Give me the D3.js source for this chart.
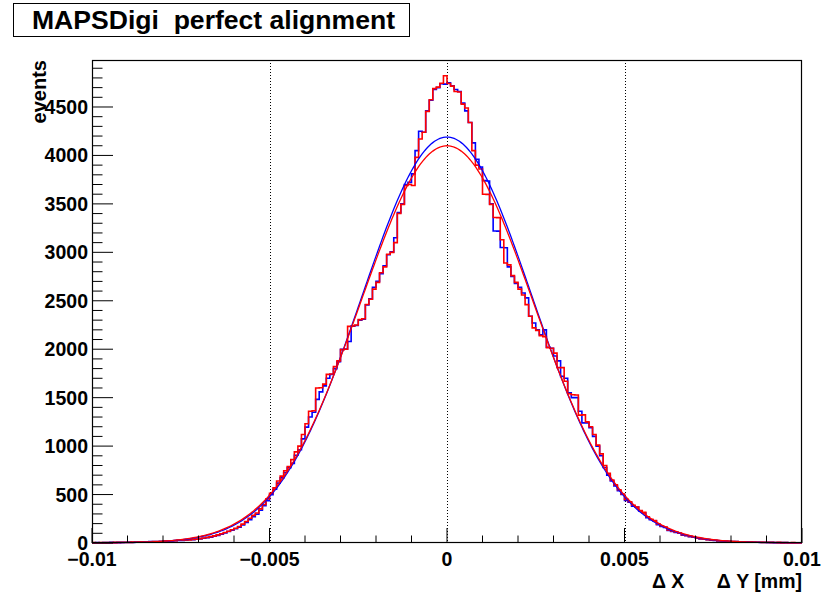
<!DOCTYPE html>
<html>
<head>
<meta charset="utf-8">
<script src="https://cdn.jsdelivr.net/npm/d3@7"></script>
<style>
  html, body { margin: 0; padding: 0; background: #fff; }
  svg { display: block; }
  text { font-family: "Liberation Sans", Arial, Helvetica, sans-serif; font-weight: bold; white-space: pre; }
</style>
</head>
<body>
<svg id="chart" width="835" height="597"></svg>
<script>
// Residual histograms: 200 bins of width 0.0001 mm from -0.01 to 0.01
const binLow = -0.01;
const binWidth = 0.0001;

const countsX = [
  3,4,3,5,4,6,5,7,6,8,
  9,8,10,11,12,11,14,15,14,17,
  19,21,22,25,27,26,30,33,35,38,
  43,49,55,61,70,79,90,103,118,131,
  147,163,186,212,240,271,296,338,384,436,
  498,555,618,672,728,778,822,905,962,1075,
  1196,1300,1350,1482,1560,1622,1700,1740,1800,1870,
  1998,2003,2080,2238,2245,2300,2310,2458,2520,2640,
  2700,2780,2860,2975,3005,3150,3410,3500,3700,3722,
  3810,4050,4250,4240,4460,4570,4680,4700,4740,4736,
  4750,4720,4680,4660,4540,4460,4340,4130,3960,3880,
  3740,3736,3500,3220,3219,3050,3048,2850,2750,2680,
  2640,2580,2530,2340,2270,2200,2150,2200,2020,2010,
  1930,1880,1720,1700,1550,1500,1500,1360,1240,1240,
  1190,1100,1000,900,780,700,640,590,540,500,
  440,420,380,370,330,310,260,240,230,190,
  170,160,130,120,110,100,80,75,65,60,
  50,42,38,34,30,26,22,20,18,16,
  15,14,12,11,10,9,8,8,7,7,
  6,6,5,5,4,4,3,3,3,2
];

const countsY = [
  4,3,5,4,5,5,6,6,8,7,
  8,9,9,12,11,13,13,16,15,16,
  20,20,24,24,28,29,31,32,37,40,
  45,52,58,66,74,84,95,108,122,136,
  152,170,195,222,255,285,310,352,398,455,
  512,570,640,690,745,790,860,940,1000,1120,
  1230,1360,1365,1600,1602,1640,1740,1745,1820,1880,
  1996,2000,2236,2240,2250,2305,2315,2462,2515,2620,
  2690,2790,2850,2980,3000,3100,3400,3495,3690,3700,
  3690,3980,4170,4240,4455,4575,4690,4705,4745,4822,
  4742,4715,4660,4655,4530,4490,4340,4050,3900,3860,
  3600,3598,3495,3360,3358,3130,2890,2870,2760,2690,
  2620,2560,2460,2340,2220,2195,2140,2130,2016,2010,
  1960,1810,1810,1670,1540,1530,1528,1320,1322,1250,
  1200,1120,1010,920,800,720,650,600,550,505,
  450,425,390,372,335,318,270,245,232,195,
  175,165,135,125,112,102,85,78,68,62,
  52,45,40,35,32,28,24,21,19,17,
  16,14,13,12,10,10,9,8,8,7,
  7,6,5,6,4,5,3,4,3,2
];

// Gaussian fit parameters [ΔX, ΔY]
const fitAmplitude = [4190, 4100];
const fitMean = [0, 0];
const fitSigma = [0.0024, 0.00243];

const seriesColors = ["#0000ff", "#ff0000"];

const xTickValues = [-0.01, -0.005, 0, 0.005, 0.01];
const xTickLabels = ["\u22120.01", "\u22120.005", "0", "0.005", "0.01"];
const yTickValues = [0, 500, 1000, 1500, 2000, 2500, 3000, 3500, 4000, 4500];
const yTickLabels = ["0", "500", "1000", "1500", "2000", "2500", "3000", "3500", "4000", "4500"];

const titleText = "MAPSDigi  perfect alignment";
const yAxisTitle = "events";
const xAxisTitle = "\u0394 X      \u0394 Y [mm]";

// Frame geometry
const frame = { left: 92, right: 802, top: 60, bottom: 543 };
const svg = d3.select("#chart");

const x = d3.scaleLinear().domain([-0.01, 0.01]).range([frame.left, frame.right]);
const y = d3.scaleLinear().domain([0, 4985]).range([frame.bottom, frame.top]);

// Title box
const tg = svg.append("g");
tg.append("rect").attr("x", 13.5).attr("y", 3.5).attr("width", 396).attr("height", 33)
  .attr("fill", "#fff").attr("stroke", "#000").attr("stroke-width", 1);
tg.append("text").attr("x", 32).attr("y", 29).attr("font-size", 25)
  .attr("fill", "#000").attr("textLength", 363).attr("lengthAdjust", "spacingAndGlyphs")
  .text(titleText);

// Vertical dotted grid at major x ticks
svg.append("g").selectAll("line")
  .data(xTickValues.filter(v => v > -0.01 && v < 0.01))
  .join("line")
  .attr("x1", d => Math.round(x(d)) + 0.5).attr("x2", d => Math.round(x(d)) + 0.5)
  .attr("y1", frame.top).attr("y2", frame.bottom)
  .attr("stroke", "#000").attr("stroke-width", 1).attr("stroke-dasharray", "1,2");

// Histogram outlines as steps
function stepPoints(counts) {
  const pts = counts.map((c, i) => [binLow + i * binWidth, c]);
  pts.push([binLow + counts.length * binWidth, counts[counts.length - 1]]);
  return pts;
}
const histLine = d3.line().x(d => x(d[0])).y(d => y(d[1])).curve(d3.curveStepAfter);

const plot = svg.append("g");
[countsX, countsY].forEach((counts, k) => {
  plot.append("path").datum(stepPoints(counts))
    .attr("d", histLine).attr("fill", "none")
    .attr("stroke", seriesColors[k]).attr("stroke-width", 1.6)
    .attr("stroke-linejoin", "miter");
});

// Gaussian fit curves
const fitLine = d3.line().x(d => x(d[0])).y(d => y(d[1])).curve(d3.curveLinear);
fitAmplitude.forEach((amp, k) => {
  const xs = d3.range(0, 401).map(j => -0.01 + j * 0.00005);
  const pts = xs.map(v => [v, amp * Math.exp(-0.5 * Math.pow((v - fitMean[k]) / fitSigma[k], 2))]);
  plot.append("path").datum(pts).attr("d", fitLine).attr("fill", "none")
    .attr("stroke", seriesColors[k]).attr("stroke-width", 1.3);
});

// Frame
svg.append("rect").attr("x", frame.left + 0.5).attr("y", frame.top + 0.5)
  .attr("width", frame.right - frame.left - 1).attr("height", frame.bottom - frame.top - 1)
  .attr("fill", "none").attr("stroke", "#000").attr("stroke-width", 1.2);

// X axis ticks (major every 0.005, minor every 0.001)
const xMinor = d3.range(-10, 11).map(v => v / 1000);
const xAxisG = svg.append("g");
xAxisG.selectAll("line.minor").data(xMinor).join("line")
  .attr("x1", d => x(d)).attr("x2", d => x(d))
  .attr("y1", frame.bottom).attr("y2", d => frame.bottom - (xTickValues.some(t => Math.abs(t - d) < 1e-9) ? 15 : 7.5))
  .attr("stroke", "#000").attr("stroke-width", 1);
xAxisG.selectAll("text").data(xTickValues).join("text")
  .attr("x", d => x(d)).attr("y", 566).attr("text-anchor", "middle")
  .attr("font-size", 19.5).text((d, i) => xTickLabels[i]);

// Y axis ticks (major every 500, minor every 100)
const yMinor = d3.range(0, 50).map(v => v * 100).filter(v => y(v) > frame.top);
const yAxisG = svg.append("g");
yAxisG.selectAll("line").data(yMinor).join("line")
  .attr("x1", frame.left).attr("x2", d => frame.left + (d % 500 === 0 ? 21 : 10.5))
  .attr("y1", d => y(d)).attr("y2", d => y(d))
  .attr("stroke", "#000").attr("stroke-width", 1);
yAxisG.selectAll("text").data(yTickValues).join("text")
  .attr("x", 88).attr("y", d => y(d) + 7).attr("text-anchor", "end")
  .attr("font-size", 19.5).text((d, i) => yTickLabels[i]);

// Axis titles
svg.append("text").attr("transform", "translate(46,60) rotate(-90)")
  .attr("text-anchor", "end").attr("font-size", 20).text(yAxisTitle);
svg.append("text").attr("x", 802).attr("y", 588).attr("text-anchor", "end")
  .attr("font-size", 19.5).text(xAxisTitle);
</script>
</body>
</html>
